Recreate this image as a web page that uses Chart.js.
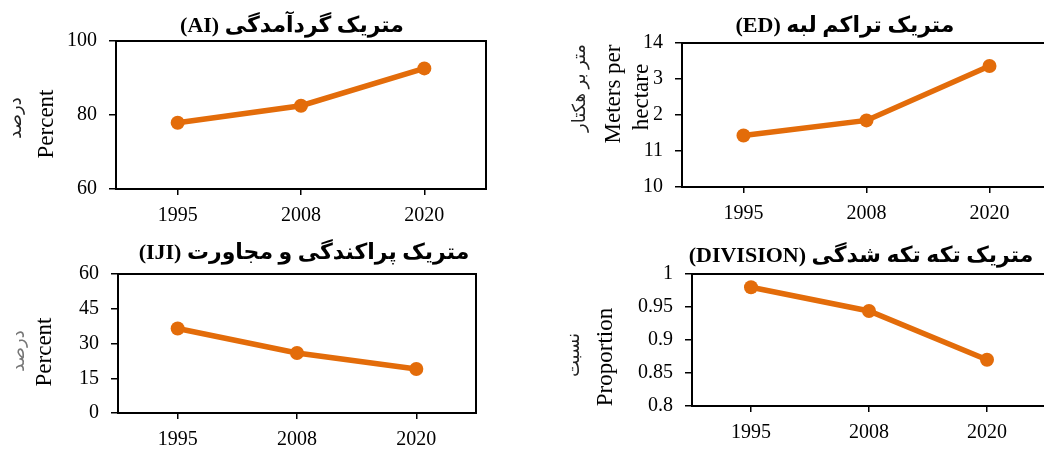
<!DOCTYPE html>
<html>
<head>
<meta charset="utf-8">
<script src="https://cdn.jsdelivr.net/npm/chart.js@4/dist/chart.umd.min.js"></script>
<style>
  body { margin: 0; width: 1044px; height: 450px; overflow: hidden; background: #fff; position: relative; }
  .box { position: absolute; }
</style>
</head>
<body>
<div class="box" style="left:0;top:0;width:522px;height:228px"><canvas id="aiChart"></canvas></div>
<div class="box" style="left:522px;top:0;width:540px;height:228px"><canvas id="edChart"></canvas></div>
<div class="box" style="left:0;top:228px;width:522px;height:222px"><canvas id="ijiChart"></canvas></div>
<div class="box" style="left:522px;top:228px;width:540px;height:222px"><canvas id="divChart"></canvas></div>
<script>
// data
const years = ['1995', '2008', '2020'];
const aiValues = [77.9, 82.5, 92.6];
const edValues = [11.43, 11.85, 13.36];
const ijiValues = [36.5, 25.9, 19.0];
const divisionValues = [0.980, 0.944, 0.870];

const aiTicks = [60, 80, 100];
const edTicks = [10, 11, 12, 13, 14];
const ijiTicks = [0, 15, 30, 45, 60];
const divisionTicks = [0.8, 0.85, 0.9, 0.95, 1];

const orange = '#E36C0A';
const serif = '"Liberation Serif", "Times New Roman", "DejaVu Sans", serif';

// titles, axis labels and the frame round the plot area
const labelsPlugin = {
    id: 'labels',
    beforeDatasetsDraw(chart) {
        const a = chart.chartArea;
        const ctx = chart.ctx;
        ctx.save();
        ctx.strokeStyle = '#000';
        ctx.lineWidth = 2;
        ctx.strokeRect(a.left, a.top, a.right - a.left, a.bottom - a.top);
        ctx.restore();
    },
    afterDraw(chart) {
        const opts = chart.options.plugins.labels;
        const ctx = chart.ctx;
        ctx.save();
        ctx.direction = 'rtl';
        ctx.textAlign = 'center';
        ctx.textBaseline = 'middle';
        ctx.fillStyle = '#000';
        ctx.font = 'bold 22px ' + serif;
        ctx.fillText(opts.title, opts.titleX, opts.titleY);
        ctx.restore();

        opts.side.forEach(l => {
            ctx.save();
            ctx.translate(l.x, l.y);
            ctx.rotate(-Math.PI / 2);
            ctx.font = l.size + 'px ' + serif;
            ctx.direction = l.rtl ? 'rtl' : 'ltr';
            ctx.textAlign = 'center';
            ctx.textBaseline = 'middle';
            if (l.bg) {
                const w = ctx.measureText(l.text).width;
                ctx.fillStyle = '#fff';
                ctx.fillRect(-w / 2 - 2, -l.size / 2, w + 4, l.size);
            }
            ctx.fillStyle = l.color || '#000';
            ctx.fillText(l.text, 0, 0);
            ctx.restore();
        });
    }
};

function makeChart(id, values, ticks, layout, labels) {
    const ctx = document.getElementById(id).getContext('2d');
    return new Chart(ctx, {
        type: 'line',
        data: {
            labels: years,
            datasets: [{
                data: values,
                borderColor: orange,
                backgroundColor: orange,
                borderWidth: 5.5,
                pointRadius: 7,
                pointHoverRadius: 7,
                pointBorderWidth: 0,
                tension: 0
            }]
        },
        options: {
            responsive: true,
            maintainAspectRatio: false,
            animation: false,
            layout: { padding: { left: 0, top: layout.top, right: layout.right, bottom: 0 } },
            plugins: {
                legend: { display: false },
                tooltip: { enabled: false },
                labels: labels
            },
            scales: {
                x: {
                    type: 'category',
                    offset: true,
                    grid: { drawOnChartArea: false, drawTicks: true, tickLength: 6, color: '#000', lineWidth: 1.5 },
                    border: { color: '#000', width: 2 },
                    ticks: { color: '#000', font: { family: serif, size: 20 }, padding: 9 },
                    afterFit: s => { s.height = layout.xh; }
                },
                y: {
                    min: ticks[0],
                    max: ticks[ticks.length - 1],
                    grid: { drawOnChartArea: false, drawTicks: true, tickLength: 7, color: '#000', lineWidth: 1.5 },
                    border: { color: '#000', width: 2 },
                    ticks: { color: '#000', font: { family: serif, size: 20 }, padding: 12, callback: v => String(v) },
                    afterBuildTicks: s => { s.ticks = ticks.map(v => ({ value: v })); },
                    afterFit: s => { s.width = layout.yw; }
                }
            }
        },
        plugins: [labelsPlugin]
    });
}

makeChart('aiChart', aiValues, aiTicks, { top: 41, right: 36, xh: 39, yw: 116 }, {
    title: 'متریک گردآمدگی (AI)', titleX: 292, titleY: 26,
    side: [
        { text: 'Percent', x: 47, y: 124, size: 23 },
        { text: 'درصد', x: 16, y: 118, size: 18, rtl: true, color: '#222' }
    ]
});

makeChart('edChart', edValues, edTicks, { top: 43, right: 11, xh: 41, yw: 160 }, {
    title: 'متریک تراکم لبه (ED)', titleX: 323, titleY: 26,
    side: [
        { text: 'Meters per', x: 92, y: 94, size: 23 },
        { text: 'hectare', x: 120, y: 97, size: 23, bg: true },
        { text: 'متر بر هکتار', x: 58, y: 88, size: 18, rtl: true, color: '#222' }
    ]
});

makeChart('ijiChart', ijiValues, ijiTicks, { top: 46, right: 46, xh: 37, yw: 118 }, {
    title: 'متریک پراکندگی و مجاورت (IJI)', titleX: 304, titleY: 25,
    side: [
        { text: 'Percent', x: 45, y: 124, size: 23 },
        { text: 'درصد', x: 19, y: 123, size: 18, rtl: true, color: '#777' }
    ]
});

makeChart('divChart', divisionValues, divisionTicks, { top: 46, right: 16, xh: 44, yw: 170 }, {
    title: 'متریک تکه تکه شدگی (DIVISION)', titleX: 339, titleY: 28,
    side: [
        { text: 'Proportion', x: 84, y: 129, size: 23 },
        { text: 'نسبت', x: 52, y: 127, size: 18, rtl: true, color: '#222' }
    ]
});
</script>
</body>
</html>
